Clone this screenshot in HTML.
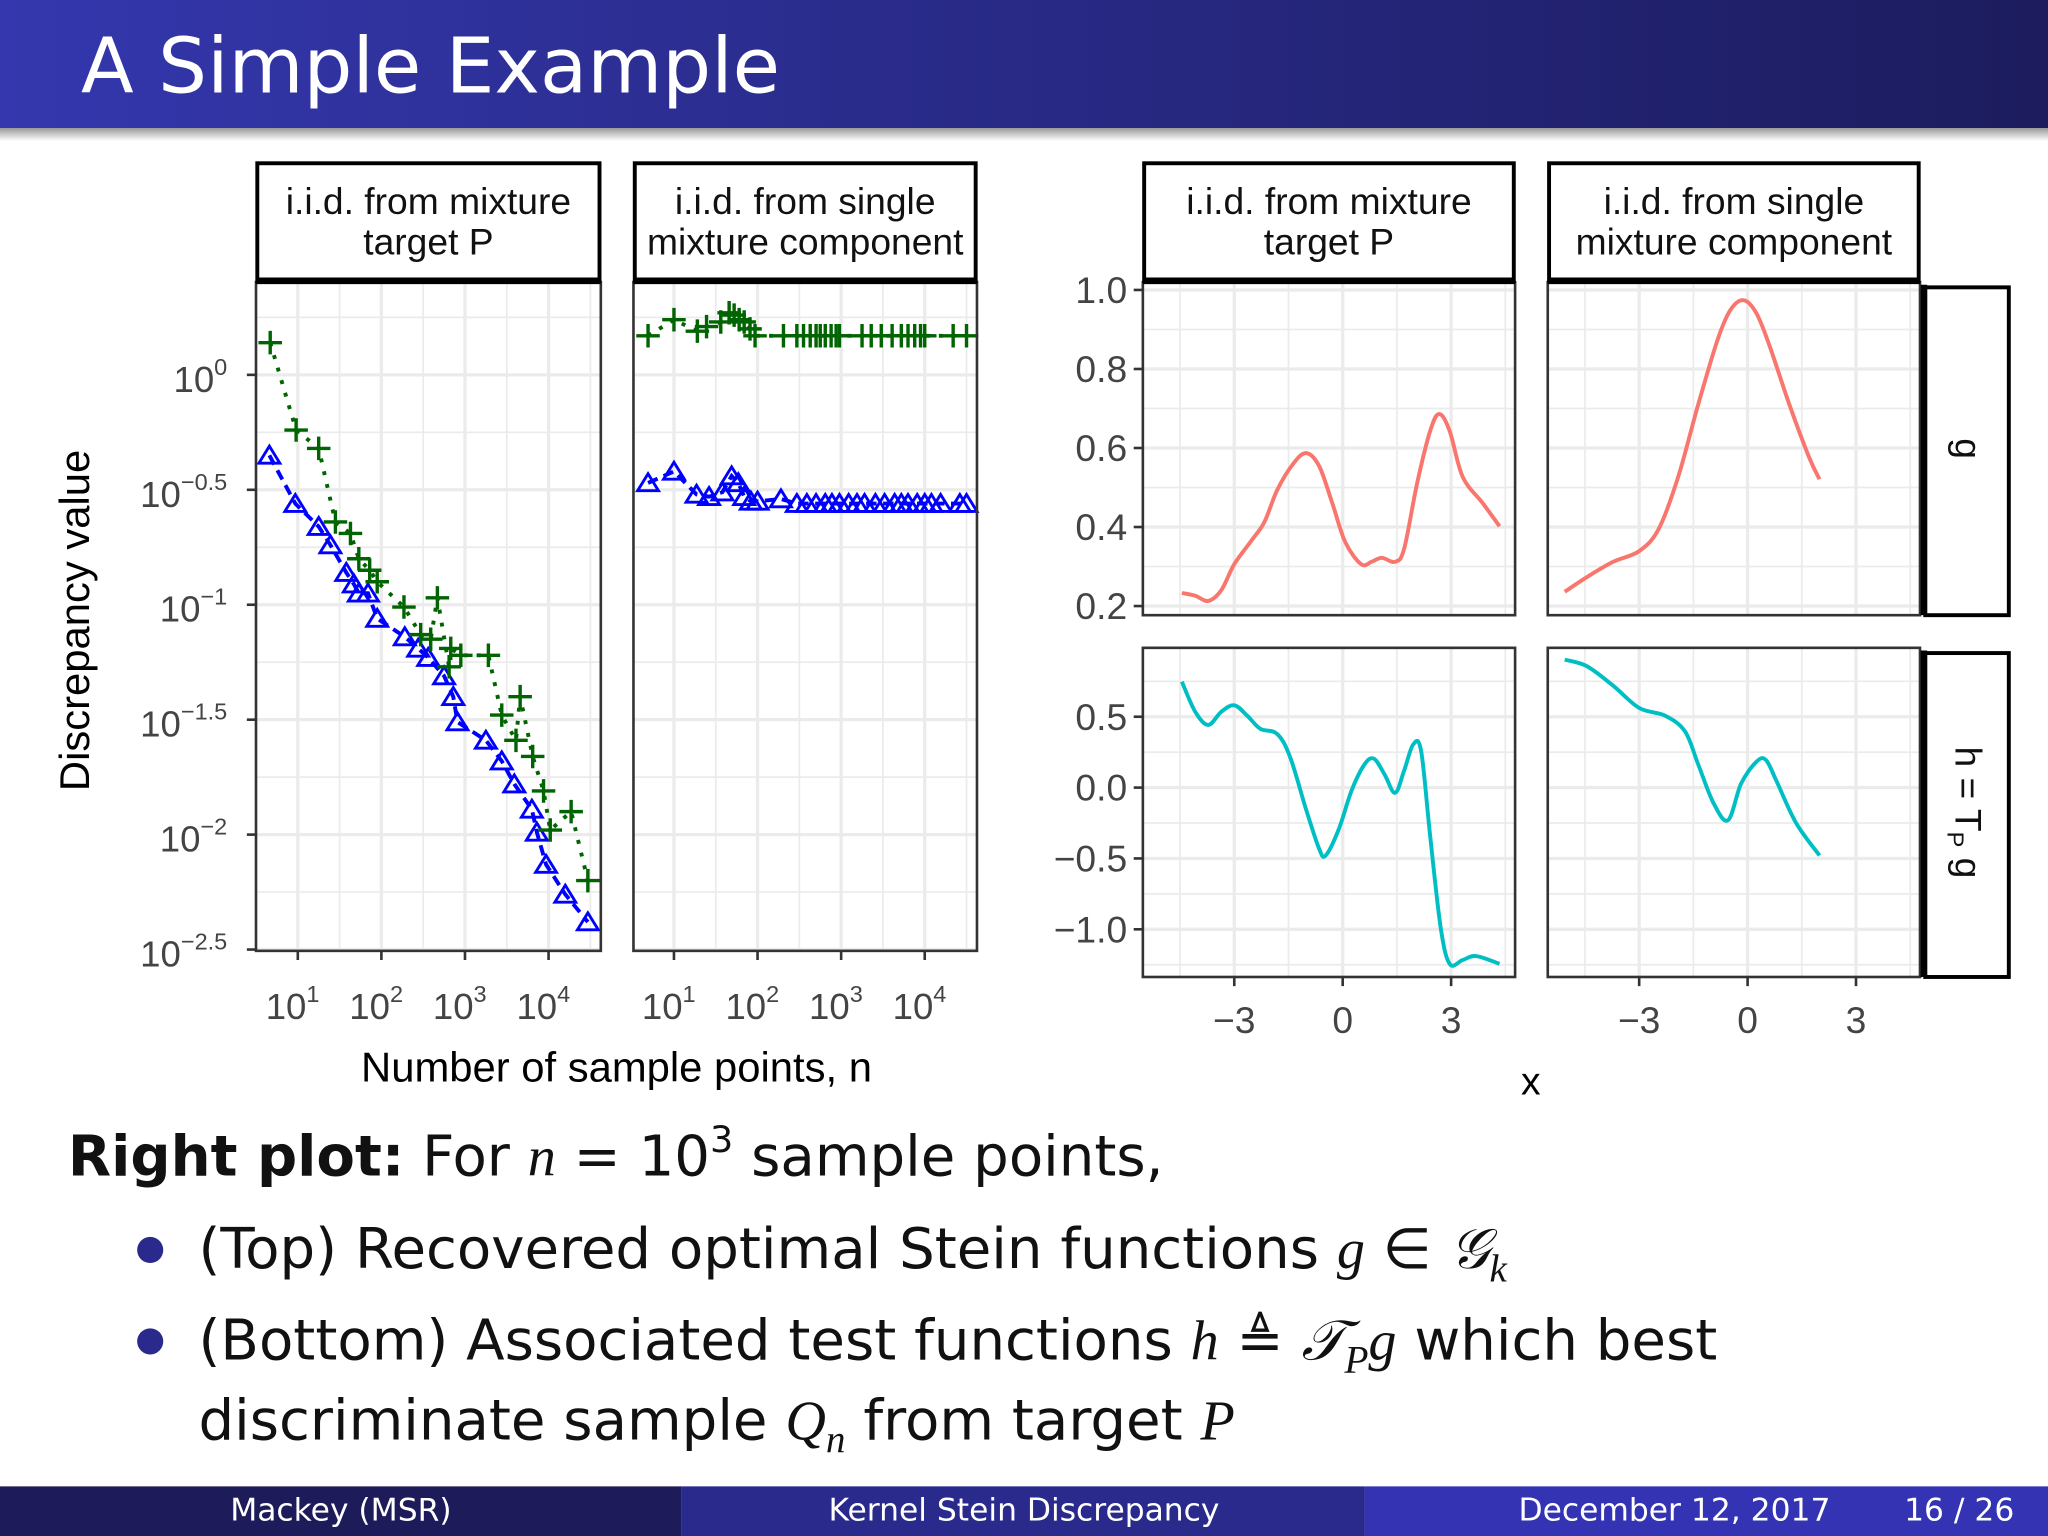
<!DOCTYPE html>
<html><head><meta charset="utf-8">
<style>
html,body{margin:0;padding:0;background:#fff;}
body{width:2048px;height:1536px;overflow:hidden;}
svg{display:block;}
.slide{font-family:"DejaVu Sans","Liberation Sans",sans-serif;}
.plot{font-family:"Liberation Sans",sans-serif;}
.math{font-family:"Liberation Serif",serif;font-style:italic;}
</style></head>
<body>
<svg id="root" width="2048" height="1536" viewBox="0 0 1568 1176" xmlns="http://www.w3.org/2000/svg">
<defs>
<linearGradient id="tg" x1="0" x2="1" y1="0" y2="0"><stop offset="0" stop-color="#3437ad"/><stop offset="1" stop-color="#1c1c5e"/></linearGradient>
<linearGradient id="sh" x1="0" x2="0" y1="0" y2="1"><stop offset="0" stop-color="#999"/><stop offset="1" stop-color="#fff"/></linearGradient>
</defs>
<g>
<rect x="0" y="0" width="1568" height="98" fill="url(#tg)"/>
<rect x="0" y="98" width="1568" height="10" fill="url(#sh)"/>
<text class="slide" x="62" y="71" font-size="59" fill="#fff">A Simple Example</text>
</g>
<g id="charts"></g>
<g class="slide" font-size="43" fill="#111">
<text x="52" y="900"><tspan font-weight="bold">Right plot:</tspan> For <tspan class="math">n</tspan> = 10<tspan font-size="28" dy="-18">3</tspan><tspan dy="18"> sample points,</tspan></text>
<circle cx="115" cy="957" r="10" fill="#2a2a8c"/>
<text x="152" y="971">(Top) Recovered optimal Stein functions <tspan class="math">g</tspan> ∈ <tspan class="math">𝒢<tspan font-size="30" dy="10">k</tspan></tspan></text>
<circle cx="115" cy="1027" r="10" fill="#2a2a8c"/>
<text x="152" y="1041">(Bottom) Associated test functions <tspan class="math">h</tspan> ≜ <tspan class="math">𝒯<tspan font-size="30" dy="10">P</tspan><tspan dy="-10">g</tspan></tspan> which best</text>
<text x="152" y="1102">discriminate sample <tspan class="math">Q<tspan font-size="30" dy="10">n</tspan></tspan><tspan dy="-10"> from target </tspan><tspan class="math">P</tspan></text>
</g>
<g class="slide" font-size="24" fill="#fff">
<rect x="0" y="1138" width="522" height="38" fill="#1d1b5a"/>
<rect x="522" y="1138" width="523" height="38" fill="#2a2a8c"/>
<rect x="1045" y="1138" width="523" height="38" fill="#3333b3"/>
<text x="261" y="1164" text-anchor="middle">Mackey  (MSR)</text>
<text x="784" y="1164" text-anchor="middle">Kernel Stein Discrepancy</text>
<text x="1282" y="1164" text-anchor="middle">December 12, 2017</text>
<text x="1500" y="1164" text-anchor="middle">16 / 26</text>
</g>
</svg>
<script>
// ---- left chart data (log10 n, log10 discrepancy) ----
const mixGreenLogN=[0.67,0.98,1.25,1.45,1.63,1.73,1.86,1.95,2.27,2.47,2.59,2.67,2.81,2.83,2.95,3.28,3.44,3.61,3.66,3.81,3.94,4.02,4.27,4.47];
const mixGreenLogD=[0.14,-0.24,-0.32,-0.64,-0.69,-0.80,-0.85,-0.90,-1.01,-1.13,-1.15,-0.97,-1.27,-1.19,-1.22,-1.22,-1.48,-1.59,-1.40,-1.66,-1.81,-1.98,-1.90,-2.20];
const mixBlueLogN=[0.66,0.97,1.25,1.39,1.58,1.67,1.73,1.84,1.95,2.28,2.44,2.56,2.75,2.86,2.91,3.25,3.44,3.59,3.80,3.86,3.97,4.20,4.47];
const mixBlueLogD=[-0.35,-0.56,-0.66,-0.74,-0.86,-0.91,-0.95,-0.95,-1.06,-1.14,-1.19,-1.23,-1.31,-1.40,-1.51,-1.59,-1.68,-1.78,-1.89,-1.99,-2.13,-2.26,-2.38];
const sglGreenLogN=[0.69,1.0,1.28,1.39,1.56,1.66,1.72,1.78,1.84,1.91,1.97,2.31,2.47,2.55,2.63,2.70,2.75,2.81,2.88,2.94,2.98,3.25,3.36,3.48,3.61,3.72,3.80,3.88,3.95,4.00,4.34,4.50];
const sglGreenLogD=[0.17,0.24,0.19,0.21,0.23,0.27,0.26,0.24,0.23,0.20,0.17,0.17,0.17,0.17,0.17,0.17,0.17,0.17,0.17,0.17,0.17,0.17,0.17,0.17,0.17,0.17,0.17,0.17,0.17,0.17,0.17,0.17];
const sglBlueLogN=[0.69,1.0,1.27,1.42,1.58,1.69,1.77,1.84,1.92,2.0,2.28,2.47,2.59,2.70,2.81,2.89,2.98,3.09,3.19,3.28,3.41,3.52,3.64,3.72,3.80,3.91,4.0,4.08,4.19,4.42,4.50];
const sglBlueLogD=[-0.47,-0.42,-0.52,-0.53,-0.51,-0.44,-0.47,-0.53,-0.55,-0.55,-0.54,-0.56,-0.56,-0.56,-0.56,-0.56,-0.56,-0.56,-0.56,-0.56,-0.56,-0.56,-0.56,-0.56,-0.56,-0.56,-0.56,-0.56,-0.56,-0.56,-0.56];
const leftYTicks=[0,-0.5,-1,-1.5,-2,-2.5];
const leftYTickLabels=["0","−0.5","−1","−1.5","−2","−2.5"];
const leftXTicks=[1,2,3,4];
const leftXTickLabels=["1","2","3","4"];
// ---- right chart data ----
const gMixX=[-4.45,-4.08,-3.72,-3.36,-3.0,-2.53,-2.17,-1.81,-1.37,-1.01,-0.65,-0.29,0.07,0.51,0.80,1.08,1.45,1.70,2.06,2.42,2.67,2.96,3.32,3.87,4.34];
const gMixY=[0.233,0.226,0.213,0.24,0.306,0.365,0.412,0.494,0.56,0.587,0.554,0.461,0.362,0.306,0.312,0.322,0.312,0.345,0.511,0.643,0.686,0.643,0.527,0.461,0.402];
const gSglX=[-5.06,-4.45,-3.72,-3.0,-2.46,-1.92,-1.37,-0.83,-0.47,-0.11,0.25,0.61,1.16,1.70,1.99];
const gSglY=[0.236,0.273,0.312,0.339,0.395,0.527,0.709,0.874,0.950,0.974,0.940,0.858,0.709,0.577,0.521];
const hMixX=[-4.45,-4.08,-3.72,-3.36,-3.0,-2.64,-2.28,-1.81,-1.45,-1.01,-0.65,-0.47,-0.11,0.25,0.61,0.87,1.16,1.45,1.70,1.95,2.17,2.42,2.71,2.96,3.32,3.69,4.34];
const hMixY=[0.747,0.535,0.442,0.535,0.581,0.507,0.415,0.378,0.212,-0.157,-0.433,-0.479,-0.295,-0.018,0.166,0.203,0.092,-0.037,0.12,0.304,0.258,-0.341,-0.986,-1.244,-1.217,-1.189,-1.244];
const hSglX=[-5.06,-4.45,-3.72,-3.0,-2.28,-1.73,-1.37,-0.94,-0.54,-0.18,0.25,0.51,0.80,1.34,1.99];
const hSglY=[0.903,0.857,0.719,0.562,0.507,0.396,0.166,-0.111,-0.23,0.028,0.184,0.194,0.046,-0.249,-0.479];
const gTicks=[0.2,0.4,0.6,0.8,1.0];
const gTickLabels=["0.2","0.4","0.6","0.8","1.0"];
const hTicks=[-1.0,-0.5,0.0,0.5];
const hTickLabels=["−1.0","−0.5","0.0","0.5"];
const xTicks=[-3,0,3];
const xTickLabels=["−3","0","3"];

const NS="http://www.w3.org/2000/svg";
const root=document.getElementById('charts');
function mk(tag,attrs,parent){const e=document.createElementNS(NS,tag);for(const k in attrs)e.setAttribute(k,attrs[k]);(parent||root).appendChild(e);return e;}
function smooth(pts){let d='M'+pts[0][0]+','+pts[0][1];for(let i=0;i<pts.length-1;i++){const p0=pts[i-1]||pts[i],p1=pts[i],p2=pts[i+1],p3=pts[i+2]||p2;
  const c1=[p1[0]+(p2[0]-p0[0])/6,p1[1]+(p2[1]-p0[1])/6],c2=[p2[0]-(p3[0]-p1[0])/6,p2[1]-(p3[1]-p1[1])/6];
  d+=`C${c1[0]},${c1[1]} ${c2[0]},${c2[1]} ${p2[0]},${p2[1]}`;}return d;}

const lyPix=v=>287-v*176;
function lxPix(off){return v=>228+off+(v-1)*64;}
const leftPanels=[{x0:196,x1:460,off:0,title:["i.i.d. from mixture","target P"],g:[mixGreenLogN,mixGreenLogD],b:[mixBlueLogN,mixBlueLogD],name:'panel-mixture-discrepancy'},
{x0:485,x1:748,off:288,title:["i.i.d. from single","mixture component"],g:[sglGreenLogN,sglGreenLogD],b:[sglBlueLogN,sglBlueLogD],name:'panel-single-discrepancy'}];
const PY0=216,PY1=728;
leftPanels.forEach((p,pi)=>{
  const g=mk('g',{class:'plot'});
  
  
  const xs=lxPix(p.off);
  mk('rect',{x:p.x0,y:PY0,width:p.x1-p.x0,height:PY1-PY0,fill:'#fff'},g);
  for(let v=-2.75;v<=0.5;v+=0.25){const y=lyPix(v);if(y<PY0||y>PY1)continue;const major=Math.abs(v*2-Math.round(v*2))<1e-6;mk('line',{x1:p.x0,x2:p.x1,y1:y,y2:y,stroke:'#ebebeb','stroke-width':major?2.5:1.3},g);}
  for(let v=0.5;v<=4.7;v+=0.5){const x=xs(v);if(x<p.x0||x>p.x1)continue;const major=Math.abs(v-Math.round(v))<1e-6;mk('line',{x1:x,x2:x,y1:PY0,y2:PY1,stroke:'#ebebeb','stroke-width':major?2.5:1.3},g);}
  const gl=mk('polyline',{points:p.g[0].map((v,i)=>xs(v)+','+lyPix(p.g[1][i])).join(' '),fill:'none',stroke:'#006400','stroke-width':3,'stroke-dasharray':'3,7'},g);
  
  
  const bl=mk('polyline',{points:p.b[0].map((v,i)=>xs(v)+','+lyPix(p.b[1][i])).join(' '),fill:'none',stroke:'#0000ff','stroke-width':3,'stroke-dasharray':'8,5'},g);
  
  
  p.b[0].forEach((v,i)=>{const x=xs(v),y=lyPix(p.b[1][i]);const t=mk('polygon',{points:`${x},${y-7} ${x+8},${y+6} ${x-8},${y+6}`,fill:'none',stroke:'#0000ff','stroke-width':2.2},g);
    
    });
  p.g[0].forEach((v,i)=>{const x=xs(v),y=lyPix(p.g[1][i]);const c=mk('path',{d:`M${x-9},${y}H${x+9}M${x},${y-9}V${y+9}`,stroke:'#006400','stroke-width':2.6},g);
    
    });
  mk('rect',{x:p.x0,y:PY0,width:p.x1-p.x0,height:PY1-PY0,fill:'none',stroke:'#333','stroke-width':2},g);
  const s=mk('g',{},g);
  
  
  mk('rect',{x:p.x0+1,y:125,width:p.x1-p.x0-2,height:90,fill:'#fff',stroke:'#000','stroke-width':3},s);
  mk('line',{x1:p.x0,x2:p.x1,y1:215,y2:215,stroke:'#000','stroke-width':5},s);
  p.title.forEach((t,i)=>{const tx=mk('text',{x:(p.x0+p.x1)/2,y:164+i*31,'text-anchor':'middle','font-size':28.5,fill:'#111'},s);tx.textContent=t;});
  leftXTicks.forEach((v,i)=>{const x=xs(v);mk('line',{x1:x,x2:x,y1:PY1,y2:PY1+7,stroke:'#333','stroke-width':2},g);
    const t=mk('text',{x:x-4,y:780,'text-anchor':'middle','font-size':28,fill:'#444'},g);
    
    
    t.innerHTML='10<tspan font-size="18" dy="-13">'+leftXTickLabels[i]+'</tspan>';});
  if(pi===0){
    leftYTicks.forEach((v,i)=>{const y=lyPix(v);mk('line',{x1:p.x0-7,x2:p.x0,y1:y,y2:y,stroke:'#333','stroke-width':2},g);
      const t=mk('text',{x:p.x0-22,y:y+13,'text-anchor':'end','font-size':28,fill:'#444'},g);
      
      
      t.innerHTML='10<tspan font-size="18" dy="-13">'+leftYTickLabels[i]+'</tspan>';});
  }
});
const yt=mk('text',{x:0,y:0,transform:'translate(68,475) rotate(-90)','text-anchor':'middle','font-size':32,fill:'#000',class:'plot'});


yt.textContent='Discrepancy value';
const xt=mk('text',{x:472,y:828,'text-anchor':'middle','font-size':32,fill:'#000',class:'plot'});


xt.textContent='Number of sample points, n';

const cols=[{x0:875,x1:1160,c0:1028,title:["i.i.d. from mixture","target P"]},{x0:1185,x1:1470,c0:1338,title:["i.i.d. from single","mixture component"]}];
const rows=[{y0:216,y1:471,ys:v=>222+(1.0-v)*302.5,ticks:gTicks,labels:gTickLabels,color:'#f8766d',data:[[gMixX,gMixY],[gSglX,gSglY]],grid:[0.1,0.2,0.3,0.4,0.5,0.6,0.7,0.8,0.9,1.0],label:'g'},
{y0:496,y1:748,ys:v=>603-v*108.5,ticks:hTicks,labels:hTickLabels,color:'#00bfc4',data:[[hMixX,hMixY],[hSglX,hSglY]],grid:[-1.25,-1.0,-0.75,-0.5,-0.25,0,0.25,0.5,0.75],label:'h'}];
rows.forEach((r,ri)=>{
  cols.forEach((c,ci)=>{
    const xs=v=>c.c0+v*27.67;
    const g=mk('g',{class:'plot'});
    
    
    mk('rect',{x:c.x0,y:r.y0,width:c.x1-c.x0,height:r.y1-r.y0,fill:'#fff'},g);
    r.grid.forEach(v=>{const y=r.ys(v);if(y<r.y0||y>r.y1)return;const major=r.ticks.some(t=>Math.abs(t-v)<1e-6);mk('line',{x1:c.x0,x2:c.x1,y1:y,y2:y,stroke:'#ebebeb','stroke-width':major?2.5:1.3},g);});
    [-4.5,-3,-1.5,0,1.5,3,4.5].forEach(v=>{const x=xs(v);if(x<c.x0||x>c.x1)return;const major=xTicks.includes(v);mk('line',{x1:x,x2:x,y1:r.y0,y2:r.y1,stroke:'#ebebeb','stroke-width':major?2.5:1.3},g);});
    const d=r.data[ci];
    const pl=mk('path',{d:smooth(d[0].map((v,i)=>[xs(v),r.ys(d[1][i])])),fill:'none',stroke:r.color,'stroke-width':3,'stroke-linejoin':'round'},g);
    
    
    mk('rect',{x:c.x0,y:r.y0,width:c.x1-c.x0,height:r.y1-r.y0,fill:'none',stroke:'#333','stroke-width':2},g);
    if(ci===0){
      r.ticks.forEach((v,i)=>{const y=r.ys(v);mk('line',{x1:c.x0-7,x2:c.x0,y1:y,y2:y,stroke:'#333','stroke-width':2},g);
        const t=mk('text',{x:c.x0-12,y:y+10,'text-anchor':'end','font-size':28.5,fill:'#444'},g);
        
        
        t.textContent=r.labels[i];});
    }
    if(ri===1){
      xTicks.forEach((v,i)=>{const x=xs(v);mk('line',{x1:x,x2:x,y1:r.y1,y2:r.y1+7,stroke:'#333','stroke-width':2},g);
        const t=mk('text',{x:x,y:791,'text-anchor':'middle','font-size':28.5,fill:'#444'},g);
        
        
        t.textContent=xTickLabels[i];});
    }
    if(ri===0){
      const s=mk('g',{},g);
      
      
      mk('rect',{x:c.x0+1,y:125,width:c.x1-c.x0-2,height:90,fill:'#fff',stroke:'#000','stroke-width':3},s);
      mk('line',{x1:c.x0,x2:c.x1,y1:215,y2:215,stroke:'#000','stroke-width':5},s);
      c.title.forEach((t,i)=>{const tx=mk('text',{x:(c.x0+c.x1)/2,y:164+i*31,'text-anchor':'middle','font-size':28.5,fill:'#111'},s);tx.textContent=t;});
    }
  });
  const s=mk('g',{class:'plot'});
  
  
  mk('rect',{x:1474,y:r.y0+4,width:64,height:r.y1-r.y0-4,fill:'#fff',stroke:'#000','stroke-width':3},s);
  mk('line',{x1:1473,x2:1473,y1:r.y0+2,y2:r.y1,stroke:'#000','stroke-width':5},s);
  const t=mk('text',{x:0,y:0,transform:`translate(1497,${(r.y0+r.y1)/2}) rotate(90)`,'text-anchor':'middle','font-size':28.5,fill:'#111'},s);
  t.innerHTML= r.label==='g' ? 'g' : 'h = T<tspan font-size="18" dy="6">P</tspan><tspan dy="-6"> g</tspan>';
});
const rx=mk('text',{x:1172,y:838,'text-anchor':'middle','font-size':30,fill:'#000',class:'plot'});


rx.textContent='x';
</script>
</body></html>
